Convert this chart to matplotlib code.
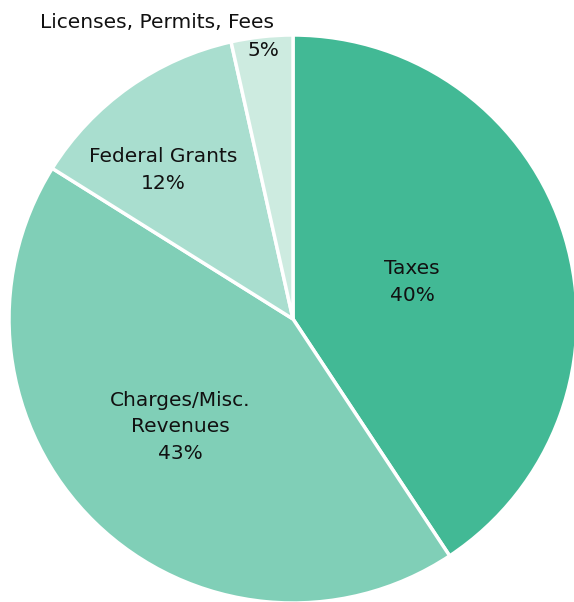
import matplotlib
matplotlib.use("Agg")
import matplotlib.pyplot as plt

categories = ["Taxes", "Charges/Misc.\nRevenues", "Federal Grants", "Licenses, Permits, Fees"]
values = [40.7, 43.2, 12.6, 3.5]
pct_labels = ["40%", "43%", "12%", "5%"]
colors = ["#42B995", "#80CFB7", "#A9DECF", "#CDEBE0"]

W, H = 574, 602
cx, cy, R = 293, 319, 284

fig = plt.figure(figsize=(W / 100, H / 100), dpi=100)
ax = fig.add_axes([0, 0, 1, 1])
ax.pie(values, colors=colors, startangle=90, counterclock=False,
       radius=1.0, center=(0, 0),
       wedgeprops=dict(edgecolor="white", linewidth=2.5))
ax.set_xlim(-cx / R, (W - cx) / R)
ax.set_ylim(-(H - cy) / R, cy / R)
ax.set_aspect("auto")
ax.axis("off")

def d(px, py):
    return (px - cx) / R, (cy - py) / R

font = dict(fontsize=14.5, family=["DejaVu Sans"], color="#111111",
            ha="center", va="center", linespacing=1.5)

ax.text(*d(412, 282), f"{categories[0]}\n{pct_labels[0]}", **font)
ax.text(*d(180, 427), f"{categories[1]}\n{pct_labels[1]}", **font)
ax.text(*d(163, 170), f"{categories[2]}\n{pct_labels[2]}", **font)
ax.text(*d(157, 22), categories[3], **font)
ax.text(*d(263, 50), pct_labels[3], **font)

fig.savefig("out.png", dpi=100)
